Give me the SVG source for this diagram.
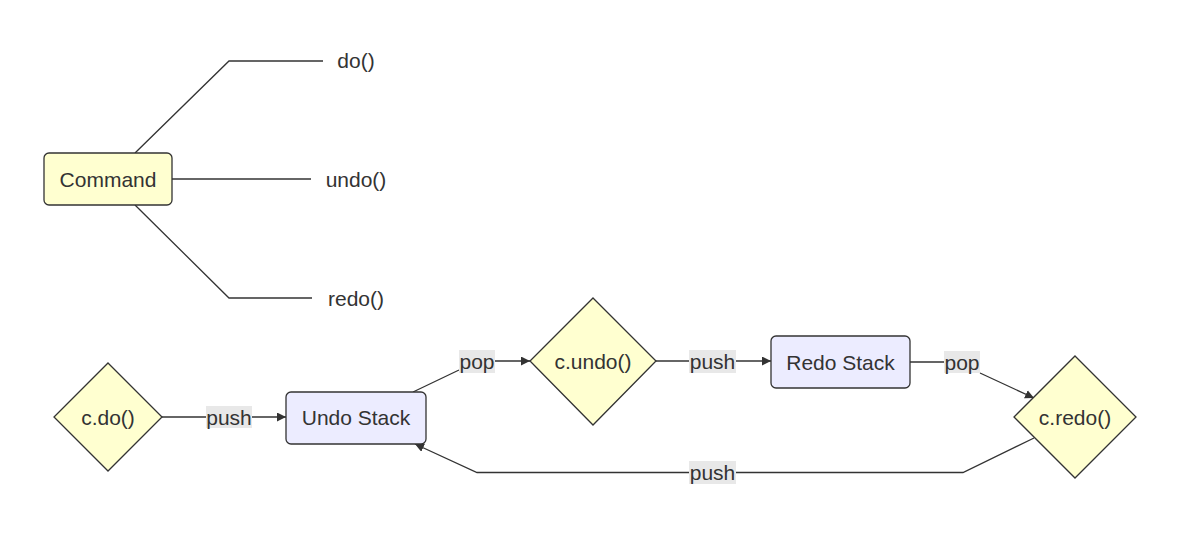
<svg xmlns="http://www.w3.org/2000/svg" width="1200" height="547" viewBox="0 0 1200 547">
<style>
text{font-family:"Liberation Sans",Arial,sans-serif;font-size:21px;fill:#333;}
.t{text-anchor:middle;dominant-baseline:central;}
.yel{fill:#ffffd0;stroke:#333;stroke-width:1.3;}
.lav{fill:#ececff;stroke:#333;stroke-width:1.3;}
.e{fill:none;stroke:#333;stroke-width:1.3;}
.lb{fill:#e8e8e8;}
</style>
<defs>
<marker id="ah" viewBox="0 0 10 10" refX="10" refY="5" markerWidth="9" markerHeight="9" markerUnits="userSpaceOnUse" orient="auto">
<path d="M0,0 L10,5 L0,10 z" fill="#333"/>
</marker>
</defs>
<rect width="1200" height="547" fill="#fff"/>
<g id="connectors">
<path class="e" d="M135,153 L229,61 L323,61"/>
<path class="e" d="M172,179 L311,179"/>
<path class="e" d="M135,205 L229,298 L312,298"/>
<path class="e" d="M162,417 L286,417" marker-end="url(#ah)"/>
<path class="e" d="M413,392 L459,370 M495,361 L530,361" marker-end="url(#ah)"/>
<path class="e" d="M656,361 L771,361" marker-end="url(#ah)"/>
<path class="e" d="M910,362 L944,362 M980,373 L1034,398" marker-end="url(#ah)"/>
<path class="e" d="M1034,438 L963,472.5 L477,472.5 L415,444" marker-end="url(#ah)"/>
<rect class="lb" x="206" y="406" width="46" height="22"/>
<text class="t" x="229" y="417">push</text>
<rect class="lb" x="459" y="350" width="36" height="23"/>
<text class="t" x="477" y="361">pop</text>
<rect class="lb" x="689" y="350" width="47" height="23"/>
<text class="t" x="712.5" y="361">push</text>
<rect class="lb" x="944" y="351" width="36" height="22"/>
<text class="t" x="962" y="362">pop</text>
<rect class="lb" x="689" y="461" width="47" height="23"/>
<text class="t" x="712.5" y="472">push</text>
</g>
<g id="command">
<rect class="yel" x="44" y="153" width="128" height="52" rx="5"/>
<text class="t" x="108" y="179">Command</text>
</g>
<g id="do"><text class="t" x="356" y="60">do()</text></g>
<g id="undo"><text class="t" x="356" y="179">undo()</text></g>
<g id="redo"><text class="t" x="356" y="298">redo()</text></g>
<g id="cdo">
<polygon class="yel" points="108,363 162,417 108,471 54,417"/>
<text class="t" x="108" y="417">c.do()</text>
</g>
<g id="undostack">
<rect class="lav" x="286" y="392" width="140" height="52" rx="5"/>
<text class="t" x="356" y="417">Undo Stack</text>
</g>
<g id="cundo">
<polygon class="yel" points="593,298 656,361 593,425 530,361"/>
<text class="t" x="593" y="361">c.undo()</text>
</g>
<g id="redostack">
<rect class="lav" x="771" y="336" width="139" height="52" rx="5"/>
<text class="t" x="840.5" y="362">Redo Stack</text>
</g>
<g id="credo">
<polygon class="yel" points="1075,356 1136,417 1075,478 1014,417"/>
<text class="t" x="1075" y="417">c.redo()</text>
</g>
</svg>
